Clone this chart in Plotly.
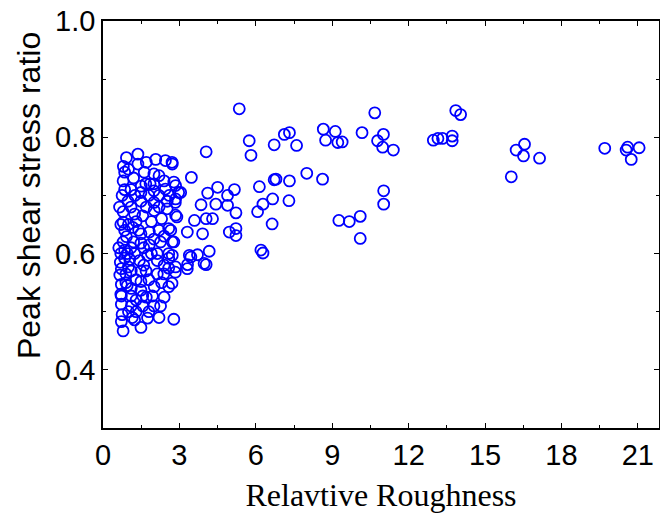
import plotly.graph_objects as go

# Relative roughness (x) and peak shear stress ratio (y)
cluster_x = [0.79, 0.72, 1.24, 1.49, 1.75, 2.2, 2.78,
             0.72, 1.11, 1.56, 2.26, 0.72, 1.11, 1.56, 1.94,
             0.72, 1.11, 1.49, 1.49, 2.01, 2.71, 2.58,
             0.66, 1.11, 1.69, 2.39, 2.84,
             0.79, 0.79, 0.85, 0.92, 0.79, 0.85, 0.85, 0.72,
             1.24, 1.56, 2.01, 2.52, 2.9,
             1.17, 1.49, 1.82, 2.2, 2.58,
             1.49, 1.82, 2.26, 2.78,
             1.24, 1.75, 2.13, 2.58,
             1.43, 2.13, 2.58,
             1.0, 1.49, 2.13, 2.58,
             0.92, 1.37, 1.37, 2.07, 2.45, 2.71,
             0.85, 0.79, 0.85, 1.62, 2.0, 2.2,
             1.68, 2.0, 1.5, 2.78,
             1.49, 2.0, 2.45, 2.97,
             0.98, 1.49, 2.0, 2.52, 2.84,
             2.85, 2.72, 3.05, 2.85, 2.85, 2.66, 2.72, 2.72, 2.85,
             1.0, 1.3, 1.8, 2.0, 0.9, 1.3, 1.8, 2.3, 0.95, 1.1, 1.6, 2.0, 2.4,
             1.0, 1.3, 1.9, 2.3, 1.1, 1.7, 2.2, 1.1, 1.2, 1.8, 2.4, 1.0, 1.7,
             1.2, 1.05, 1.6, 2.4, 1.9, 1.3, 1.7, 2.4, 0.7, 0.7, 0.75, 0.8, 0.7,
             0.75, 2.2, 2.6, 1.25, 0.68, 0.9, 1.15, 0.62, 0.95, 1.4, 0.65, 1.85]
cluster_y = [0.467, 0.483, 0.486, 0.473, 0.489, 0.49, 0.487,
             0.513, 0.51, 0.51, 0.51, 0.527, 0.527, 0.527, 0.527,
             0.547, 0.54, 0.537, 0.552, 0.543, 0.549, 0.543,
             0.563, 0.57, 0.57, 0.565, 0.568,
             0.672, 0.654, 0.64, 0.629, 0.62, 0.606, 0.592, 0.574,
             0.668, 0.665, 0.674, 0.677, 0.663,
             0.645, 0.634, 0.637, 0.64, 0.643,
             0.618, 0.615, 0.62, 0.62,
             0.6, 0.597, 0.6, 0.6,
             0.588, 0.588, 0.592,
             0.577, 0.57, 0.565, 0.575,
             0.765, 0.771, 0.754, 0.762, 0.76, 0.757,
             0.74, 0.725, 0.71, 0.74, 0.737, 0.734,
             0.72, 0.72, 0.716, 0.723,
             0.705, 0.708, 0.711, 0.705,
             0.69, 0.69, 0.688, 0.69, 0.688,
             0.717, 0.754, 0.705, 0.694, 0.666, 0.64, 0.62, 0.597, 0.577,
             0.5, 0.5, 0.5, 0.51, 0.55, 0.555, 0.555, 0.55, 0.6, 0.61, 0.61, 0.625, 0.63,
             0.65, 0.655, 0.655, 0.66, 0.68, 0.68, 0.7, 0.71, 0.73, 0.7, 0.725, 0.745, 0.757,
             0.62, 0.59, 0.58, 0.58, 0.6, 0.52, 0.525, 0.525, 0.6, 0.65, 0.7, 0.75, 0.53,
             0.495, 0.68, 0.7, 0.7, 0.585, 0.565, 0.49, 0.61, 0.545, 0.64, 0.68, 0.72]

mid_x = [3.31, 3.31, 3.47, 4.05, 4.11, 4.50, 5.16, 4.89, 3.85, 4.43, 4.89, 5.22,
         3.59, 4.05, 4.30, 3.91, 4.96, 5.22, 5.22, 3.39, 3.71, 4.17, 4.05, 3.32,
         3.45, 3.97,
         5.35, 5.74, 5.81, 6.72, 7.12, 7.32, 7.60, 8.65, 9.12, 8.74, 9.22, 9.39,
         10.17, 11.01, 10.78, 10.98, 11.40, 12.97, 13.15, 10.67,
         6.14, 6.72, 6.79, 7.32, 8.00, 8.62, 6.07, 6.28, 6.66, 7.30, 6.64, 6.20,
         6.28, 9.26, 9.67, 10.10, 10.10, 11.02, 11.02]
mid_y = [0.574, 0.637, 0.731, 0.775, 0.704, 0.714, 0.71, 0.7, 0.684, 0.685, 0.683, 0.67,
         0.657, 0.66, 0.66, 0.634, 0.637, 0.643, 0.631, 0.597, 0.598, 0.604, 0.581, 0.581,
         0.594, 0.583,
         0.849, 0.794, 0.769, 0.787, 0.805, 0.808, 0.786, 0.814, 0.81, 0.795, 0.791, 0.792,
         0.808, 0.805, 0.794, 0.783, 0.778, 0.795, 0.798, 0.842,
         0.715, 0.727, 0.728, 0.725, 0.738, 0.728, 0.672, 0.685, 0.694, 0.691, 0.651, 0.606,
         0.601, 0.657, 0.655, 0.664, 0.626, 0.708, 0.685]

far_x = [13.85, 14.04, 13.33, 13.71, 13.71, 16.22, 16.55, 16.51, 17.14, 16.03,
         19.70, 20.54, 20.60, 21.05, 20.74]
far_y = [0.846, 0.839, 0.798, 0.802, 0.794, 0.778, 0.788, 0.768, 0.764, 0.732,
         0.781, 0.778, 0.783, 0.782, 0.762]

x_vals = cluster_x + mid_x + far_x
y_vals = cluster_y + mid_y + far_y

x_ticks = [0, 3, 6, 9, 12, 15, 18, 21]
y_ticks = [0.4, 0.6, 0.8, 1.0]

fig = go.Figure()
fig.add_trace(go.Scatter(
    x=x_vals, y=y_vals, mode="markers",
    marker=dict(symbol="circle-open", size=11, color="#0000FF",
                line=dict(width=1.8, color="#0000FF")),
    showlegend=False,
))

axis_common = dict(
    showline=True, linecolor="black", linewidth=1.5, mirror="allticks",
    ticks="inside", ticklen=5, tickwidth=1.3, tickcolor="black",
    showgrid=False, zeroline=False, ticklabeloverflow="allow", automargin=False,
    tickfont=dict(family="Liberation Sans, Arial", size=29, color="black"),
)

fig.update_xaxes(
    range=[0, 21.83], tickvals=x_ticks, ticktext=[str(v) for v in x_ticks],
    minor=dict(ticks="inside", ticklen=3, tickwidth=1.1, tickcolor="black",
               dtick=1.5, tick0=0, showgrid=False),
    title=dict(text="Relavtive Roughness",
               font=dict(family="Liberation Serif, Times New Roman", size=32, color="black"),
               standoff=14),
    **axis_common,
)
fig.update_yaxes(
    range=[0.3, 1.0], tickvals=y_ticks, ticktext=["%.1f" % v for v in y_ticks],
    minor=dict(ticks="inside", ticklen=3, tickwidth=1.1, tickcolor="black",
               dtick=0.1, tick0=0, showgrid=False),
    **axis_common,
)

fig.add_annotation(
    text="Peak shear stress ratio", textangle=-90,
    xref="paper", yref="paper", x=-0.133, y=0.57,
    xanchor="center", yanchor="middle", showarrow=False,
    font=dict(family="Liberation Sans, Arial", size=32, color="black"),
)

fig.update_layout(
    width=660, height=524,
    margin=dict(l=103, r=1, t=21, b=96),
    plot_bgcolor="white", paper_bgcolor="white",
)

fig.write_html("out.html")
